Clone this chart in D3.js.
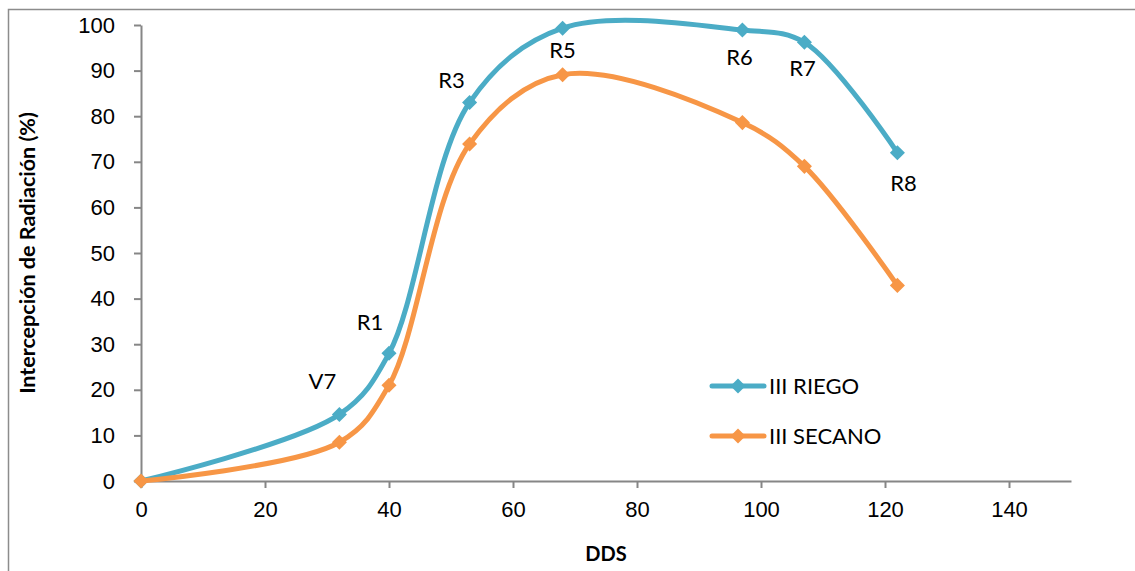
<!DOCTYPE html>
<html>
<head>
<meta charset="utf-8">
<script src="https://cdn.jsdelivr.net/npm/d3@7"></script>
<style>
  body { margin: 0; background: #fff; }
  svg { font-family: Lato, "Open Sans", sans-serif; }
</style>
</head>
<body>
<svg id="chart" width="1135" height="571"></svg>
<script>
// data
var dds = [0, 32, 40, 53, 68, 97, 107, 122];
var riego = [0, 14.6, 28, 83, 99.3, 98.9, 96.2, 72];
var secano = [0, 8.5, 21, 73.9, 89.1, 78.6, 69, 42.9];
var stages = ["", "V7", "R1", "R3", "R5", "R6", "R7", "R8"];
var seriesNames = ["III RIEGO", "III SECANO"];
var xTicks = [0, 20, 40, 60, 80, 100, 120, 140];
var yTicks = [0, 10, 20, 30, 40, 50, 60, 70, 80, 90, 100];

// label offsets from the RIEGO points (px)
var labelOffsets = [[0, 0], [-17, -33], [-19, -31], [-18, -22], [0, 22], [-3, 27], [-2, 26], [6, 31]];

var svg = d3.select("#chart"),
  margin = { top: 25, right: 64, bottom: 90, left: 141 },
  width = +svg.attr("width") - margin.left - margin.right,
  height = +svg.attr("height") - margin.top - margin.bottom;

var colors = ["#4BACC6", "#F79646"];
var axisColor = "#868686";

// outer chart frame
svg.append("rect")
  .attr("x", 8.5).attr("y", 9.5)
  .attr("width", 1140).attr("height", 580)
  .attr("fill", "none").attr("stroke", "#8c8c8c").attr("stroke-width", 1.5);

var x = d3.scaleLinear().domain([0, 150]).range([0, width]);
var y = d3.scaleLinear().domain([0, 100]).range([height, 0]);

var g = svg.append("g")
  .attr("transform", "translate(" + margin.left + "," + margin.top + ")");

var xAxis = g.append("g")
  .attr("transform", "translate(0," + height + ")")
  .call(d3.axisBottom(x).tickValues(xTicks).tickSize(7).tickSizeOuter(0).tickPadding(13));

var yAxis = g.append("g")
  .call(d3.axisLeft(y).tickValues(yTicks).tickSize(7).tickSizeOuter(0).tickPadding(19));

[xAxis, yAxis].forEach(function (a) {
  a.select(".domain").attr("stroke", axisColor).attr("stroke-width", 2);
  a.selectAll(".tick line").attr("stroke", axisColor).attr("stroke-width", 2);
  a.selectAll(".tick text").attr("fill", "#000").style("font-size", "22px");
});

// axis titles
svg.append("text")
  .attr("x", margin.left + x(75)).attr("y", 561)
  .attr("text-anchor", "middle")
  .style("font-size", "20px").style("font-weight", "bold")
  .text("DDS");

svg.append("text")
  .attr("transform", "translate(35," + (margin.top + height / 2) + ") rotate(-90)")
  .attr("text-anchor", "middle")
  .style("font-size", "21.5px").style("font-weight", "bold")
  .text("Intercepción de Radiación (%)");

var line = d3.line()
  .x(function (d) { return x(d[0]); })
  .y(function (d) { return y(d[1]); })
  .curve(d3.curveCatmullRom.alpha(0.5));

var diamond = d3.symbol().type(d3.symbolDiamond2).size(145);

[riego, secano].forEach(function (vals, i) {
  var pts = dds.map(function (d, j) { return [d, vals[j]]; });
  g.append("path")
    .datum(pts)
    .attr("fill", "none")
    .attr("stroke", colors[i])
    .attr("stroke-width", 5)
    .attr("stroke-linejoin", "round")
    .attr("d", line);
  g.selectAll(".pt" + i)
    .data(pts)
    .enter().append("path")
    .attr("class", "pt" + i)
    .attr("transform", function (d) { return "translate(" + x(d[0]) + "," + y(d[1]) + ")"; })
    .attr("d", diamond)
    .attr("fill", colors[i]);
});

// stage labels
g.selectAll(".stage")
  .data(stages)
  .enter().append("text")
  .attr("class", "stage")
  .attr("x", function (d, i) { return x(dds[i]) + labelOffsets[i][0]; })
  .attr("y", function (d, i) { return y(riego[i]) + labelOffsets[i][1]; })
  .attr("dy", "0.35em")
  .attr("text-anchor", "middle")
  .style("font-size", "22px")
  .text(function (d) { return d; });

// legend
var legend = svg.append("g");
seriesNames.forEach(function (name, i) {
  var ly = 386 + i * 50;
  legend.append("line")
    .attr("x1", 712).attr("x2", 764).attr("y1", ly).attr("y2", ly)
    .attr("stroke", colors[i]).attr("stroke-width", 5).attr("stroke-linecap", "round");
  legend.append("path")
    .attr("transform", "translate(738," + ly + ")")
    .attr("d", diamond)
    .attr("fill", colors[i]);
  legend.append("text")
    .attr("x", 769).attr("y", ly).attr("dy", "0.35em")
    .style("font-size", "22px")
    .text(name);
});
</script>
</body>
</html>
